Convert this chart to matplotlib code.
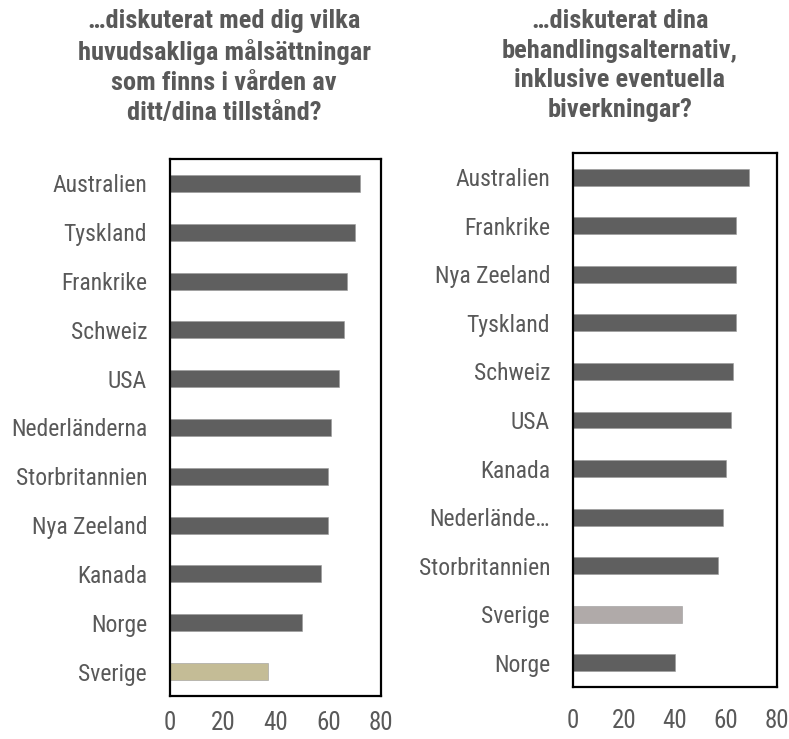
import matplotlib
matplotlib.use("Agg")
import matplotlib.pyplot as plt
from matplotlib import font_manager

names = {f.name for f in font_manager.fontManager.ttflist}
fam = [n for n in ["Liberation Sans Narrow", "Roboto Condensed", "Liberation Sans"] if n in names] + ["DejaVu Sans"]
plt.rcParams['font.family'] = fam

left_title = "…diskuterat med dig vilka\nhuvudsakliga målsättningar\nsom finns i vården av\nditt/dina tillstånd?"
left_countries = ["Australien", "Tyskland", "Frankrike", "Schweiz", "USA", "Nederländerna",
                  "Storbritannien", "Nya Zeeland", "Kanada", "Norge", "Sverige"]
left_values = [72.1, 70.1, 67.2, 66.0, 64.1, 61.1, 60.0, 60.0, 57.1, 50.1, 37.0]

right_title = "…diskuterat dina\nbehandlingsalternativ,\ninklusive eventuella\nbiverkningar?"
right_countries = ["Australien", "Frankrike", "Nya Zeeland", "Tyskland", "Schweiz", "USA",
                   "Kanada", "Nederlände…", "Storbritannien", "Sverige", "Norge"]
right_values = [68.9, 63.9, 63.9, 63.9, 62.9, 61.8, 59.9, 58.8, 56.9, 42.9, 40.0]

xticks = [0, 20, 40, 60, 80]

DARK = "#5f5f5f"
TXT = "#595959"
W, H = 789, 739
fig = plt.figure(figsize=(W/100, H/100), dpi=100)

def panel(rect, title, title_x, countries, values, highlight, hcolor, xlabel_pad):
    l, t, r, b = rect
    ax = fig.add_axes([l/W, 1-b/H, (r-l)/W, (b-t)/H])
    colors = [hcolor if c == highlight else DARK for c in countries]
    ypos = list(range(len(countries)))
    ax.barh(ypos, values, height=0.35, color=colors, edgecolor="#9a9a9a", linewidth=0.4)
    ax.set_yticks(ypos)
    ax.set_yticklabels(countries)
    ax.set_ylim(len(countries) - 0.5, -0.5)
    ax.set_xlim(0, 80)
    ax.set_xticks(xticks)
    ax.set_xticklabels([str(v) for v in xticks])
    ax.tick_params(axis='y', length=0, pad=16.5, labelsize=17, labelcolor=TXT)
    ax.tick_params(axis='x', length=0, pad=xlabel_pad, labelsize=18, labelcolor=TXT)
    for s in ax.spines.values():
        s.set_linewidth(1.6)
        s.set_color("black")
    fig.text(title_x/W, 1-9/H, title, ha='center', va='top', fontsize=19,
             fontweight='bold', color=TXT, linespacing=1.3)
    return ax

panel((170, 159, 381, 696), left_title, 224, left_countries, left_values,
      "Sverige", "#c4bc96", 11)
panel((573, 153, 777, 687), right_title, 620, right_countries, right_values,
      "Sverige", "#b0aaa9", 16)

fig.savefig("out.png", dpi=100)
